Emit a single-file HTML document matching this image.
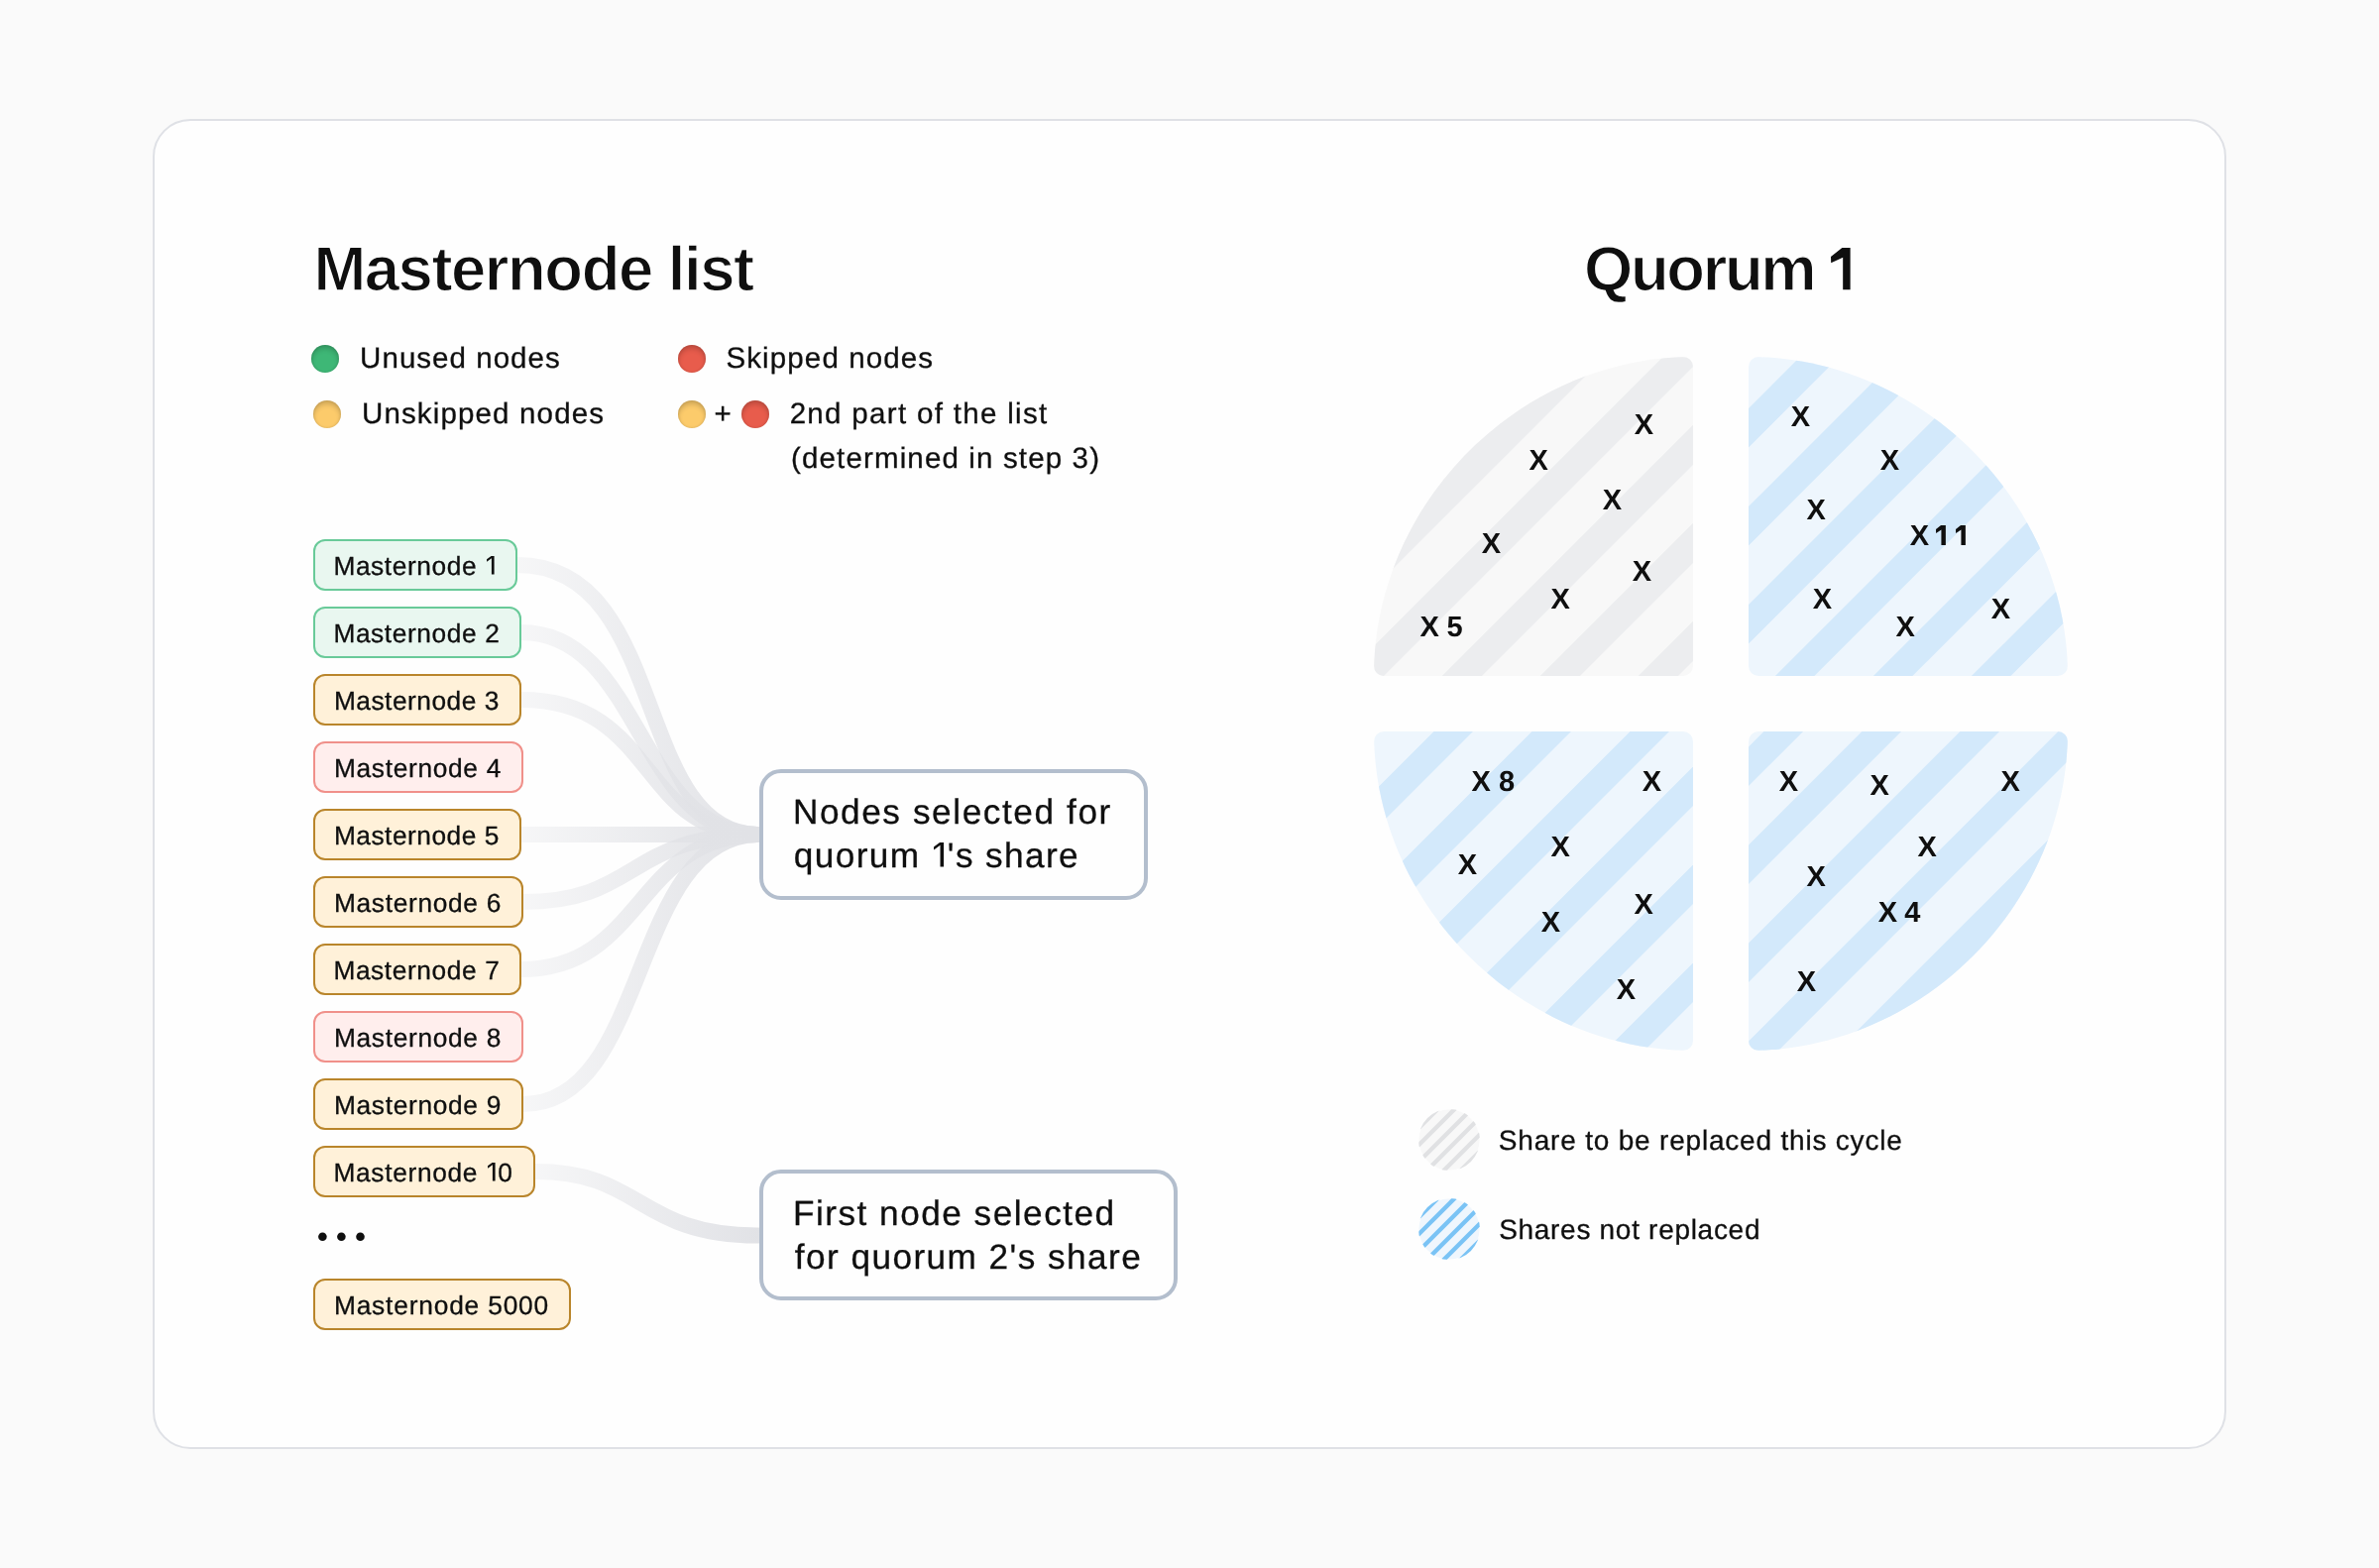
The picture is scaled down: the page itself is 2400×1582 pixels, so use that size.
<!DOCTYPE html><html><head><meta charset="utf-8"><title>Masternode list / Quorum 1</title><style>
html,body{margin:0;padding:0}
body{width:2400px;height:1582px;background:#fafafa;position:relative;overflow:hidden;font-family:"Liberation Sans",sans-serif;color:#0f0f0f}
.card{position:absolute;left:154px;top:120px;width:2088px;height:1338px;border:2px solid #dfe1e6;border-radius:38px;background:#fefefe}
.t{position:absolute;white-space:pre;line-height:1;text-rendering:geometricPrecision;font-family:"Liberation Sans",sans-serif}
.mn{position:absolute;height:48px;border:2px solid;border-radius:12px;left:316px}
.g{background:#e9f7f0;border-color:#69ca99}.y{background:#fff1d9;border-color:#b9852b}.r{background:#ffeeed;border-color:#f0908a}
.dot{position:absolute;width:28px;height:28px;border-radius:50%;box-shadow:inset 0 4px 5px rgba(0,0,0,.17),inset 0 0 3px rgba(0,0,0,.14)}
.lb{position:absolute;border:4px solid #b3becd;border-radius:22px;background:#fefefe;box-sizing:border-box}
svg{position:absolute;left:0;top:0}
.tl{position:absolute;left:0;top:0;width:2400px;height:1582px;will-change:transform}
</style></head><body>
<div class="card"></div>
<svg width="2400" height="1582" viewBox="0 0 2400 1582"><defs><linearGradient id="cg0" gradientUnits="userSpaceOnUse" x1="522" y1="0" x2="766" y2="0"><stop offset="0" stop-color="#e1e2e6" stop-opacity=".28"/><stop offset="1" stop-color="#e1e2e6" stop-opacity="1"/></linearGradient><linearGradient id="cg1" gradientUnits="userSpaceOnUse" x1="526" y1="0" x2="766" y2="0"><stop offset="0" stop-color="#e1e2e6" stop-opacity=".28"/><stop offset="1" stop-color="#e1e2e6" stop-opacity="1"/></linearGradient><linearGradient id="cg2" gradientUnits="userSpaceOnUse" x1="526" y1="0" x2="766" y2="0"><stop offset="0" stop-color="#e1e2e6" stop-opacity=".28"/><stop offset="1" stop-color="#e1e2e6" stop-opacity="1"/></linearGradient><linearGradient id="cg3" gradientUnits="userSpaceOnUse" x1="526" y1="0" x2="766" y2="0"><stop offset="0" stop-color="#e1e2e6" stop-opacity=".28"/><stop offset="1" stop-color="#e1e2e6" stop-opacity="1"/></linearGradient><linearGradient id="cg4" gradientUnits="userSpaceOnUse" x1="528" y1="0" x2="766" y2="0"><stop offset="0" stop-color="#e1e2e6" stop-opacity=".28"/><stop offset="1" stop-color="#e1e2e6" stop-opacity="1"/></linearGradient><linearGradient id="cg5" gradientUnits="userSpaceOnUse" x1="526" y1="0" x2="766" y2="0"><stop offset="0" stop-color="#e1e2e6" stop-opacity=".28"/><stop offset="1" stop-color="#e1e2e6" stop-opacity="1"/></linearGradient><linearGradient id="cg6" gradientUnits="userSpaceOnUse" x1="528" y1="0" x2="766" y2="0"><stop offset="0" stop-color="#e1e2e6" stop-opacity=".28"/><stop offset="1" stop-color="#e1e2e6" stop-opacity="1"/></linearGradient><linearGradient id="cg10" gradientUnits="userSpaceOnUse" x1="540" y1="0" x2="766" y2="0"><stop offset="0" stop-color="#e1e2e6" stop-opacity=".28"/><stop offset="1" stop-color="#e1e2e6" stop-opacity="1"/></linearGradient><clipPath id="rrTL"><rect x="1386" y="360" width="322" height="322" rx="10" ry="10"/></clipPath><clipPath id="ccTL"><path d="M1386,682 C1386,507.48 1533.48,360 1708,360 L1708,682Z"/></clipPath><clipPath id="rrTR"><rect x="1764" y="360" width="322" height="322" rx="10" ry="10"/></clipPath><clipPath id="ccTR"><path d="M2086,682 C2086,507.48 1938.52,360 1764,360 L1764,682Z"/></clipPath><clipPath id="rrBL"><rect x="1386" y="738" width="322" height="322" rx="10" ry="10"/></clipPath><clipPath id="ccBL"><path d="M1386,738 C1386,912.52 1533.48,1060 1708,1060 L1708,738Z"/></clipPath><clipPath id="rrBR"><rect x="1764" y="738" width="322" height="322" rx="10" ry="10"/></clipPath><clipPath id="ccBR"><path d="M2086,738 C2086,912.52 1938.52,1060 1764,1060 L1764,738Z"/></clipPath><clipPath id="lc1"><circle cx="1462" cy="1150" r="31"/></clipPath><clipPath id="lc2"><circle cx="1462" cy="1240" r="31"/></clipPath></defs><path d="M522,570 C676,570 637,842 766,842" fill="none" stroke="url(#cg0)" stroke-width="16"/><path d="M526,638 C647,638 643.5,842 766,842" fill="none" stroke="url(#cg1)" stroke-width="16"/><path d="M526,706 C664,706 642.5,842 766,842" fill="none" stroke="url(#cg2)" stroke-width="16"/><rect x="526" y="834" width="240" height="16" fill="url(#cg3)"/><path d="M528,910 C645,910 633,842 766,842" fill="none" stroke="url(#cg4)" stroke-width="16"/><path d="M526,978 C650,978 641,842 766,842" fill="none" stroke="url(#cg5)" stroke-width="16"/><path d="M528,1114 C656,1114 635,842 766,842" fill="none" stroke="url(#cg6)" stroke-width="16"/><path d="M540,1182 C649,1182 642,1246.6 766,1246.6" fill="none" stroke="url(#cg10)" stroke-width="16"/><g clip-path="url(#rrTL)"><g clip-path="url(#ccTL)"><rect x="1386" y="360" width="322" height="322" fill="#f8f8f8"/><polygon points="1370.7,358 1422.9,358 1096.9,684 1044.7,684" fill="#ecedef"/><polygon points="1469.7,358 1521.9,358 1195.9,684 1143.7,684" fill="#ecedef"/><polygon points="1568.7,358 1620.9,358 1294.9,684 1242.7,684" fill="#ecedef"/><polygon points="1679.7,358 1719.9,358 1393.9,684 1353.7,684" fill="#ecedef"/><polygon points="1778.7,358 1818.9,358 1492.9,684 1452.7,684" fill="#ecedef"/><polygon points="1877.7,358 1917.9,358 1591.9,684 1551.7,684" fill="#ecedef"/><polygon points="1976.7,358 2016.9,358 1690.9,684 1650.7,684" fill="#ecedef"/></g></g><g clip-path="url(#rrTR)"><g clip-path="url(#ccTR)"><rect x="1764" y="360" width="322" height="322" fill="#eef6fd"/><polygon points="1817.9,358 1857.4,358 1531.4,684 1491.9,684" fill="#d3e9fb"/><polygon points="1916.9,358 1956.4,358 1630.4,684 1590.9,684" fill="#d3e9fb"/><polygon points="2015.9,358 2055.4,358 1729.4,684 1689.9,684" fill="#d3e9fb"/><polygon points="2114.9,358 2154.4,358 1828.4,684 1788.9,684" fill="#d3e9fb"/><polygon points="2213.9,358 2253.4,358 1927.4,684 1887.9,684" fill="#d3e9fb"/><polygon points="2312.9,358 2352.4,358 2026.4,684 1986.9,684" fill="#d3e9fb"/></g></g><g clip-path="url(#rrBL)"><g clip-path="url(#ccBL)"><rect x="1386" y="738" width="322" height="322" fill="#eef6fd"/><polygon points="1349.5,736 1389.0,736 1063.0,1062 1023.5,1062" fill="#d3e9fb"/><polygon points="1448.5,736 1488.0,736 1162.0,1062 1122.5,1062" fill="#d3e9fb"/><polygon points="1547.5,736 1587.0,736 1261.0,1062 1221.5,1062" fill="#d3e9fb"/><polygon points="1646.5,736 1686.0,736 1360.0,1062 1320.5,1062" fill="#d3e9fb"/><polygon points="1745.5,736 1785.0,736 1459.0,1062 1419.5,1062" fill="#d3e9fb"/><polygon points="1844.5,736 1884.0,736 1558.0,1062 1518.5,1062" fill="#d3e9fb"/><polygon points="1943.5,736 1983.0,736 1657.0,1062 1617.5,1062" fill="#d3e9fb"/></g></g><g clip-path="url(#rrBR)"><g clip-path="url(#ccBR)"><rect x="1764" y="738" width="322" height="322" fill="#eef6fd"/><polygon points="1781.4,736 1821.1,736 1495.1,1062 1455.4,1062" fill="#d3e9fb"/><polygon points="1880.4,736 1920.1,736 1594.1,1062 1554.4,1062" fill="#d3e9fb"/><polygon points="1979.4,736 2019.1,736 1693.1,1062 1653.4,1062" fill="#d3e9fb"/><polygon points="2078.4,736 2118.1,736 1792.1,1062 1752.4,1062" fill="#d3e9fb"/><polygon points="2177.4,736 2229.1,736 1903.1,1062 1851.4,1062" fill="#d3e9fb"/><polygon points="2276.4,736 2328.1,736 2002.1,1062 1950.4,1062" fill="#d3e9fb"/><polygon points="2375.4,736 2427.1,736 2101.1,1062 2049.4,1062" fill="#d3e9fb"/></g></g><circle cx="1462" cy="1150" r="30.5" fill="#f8f8f8"/><g clip-path="url(#lc1)"><polygon points="1450.4,1116 1456.6,1116 1388.6,1184 1382.4,1184" fill="#e0e1e3"/><polygon points="1467.4,1116 1473.6,1116 1405.6,1184 1399.4,1184" fill="#e0e1e3"/><polygon points="1484.4,1116 1490.6,1116 1422.6,1184 1416.4,1184" fill="#e0e1e3"/><polygon points="1501.4,1116 1507.6,1116 1439.6,1184 1433.4,1184" fill="#e0e1e3"/><polygon points="1518.4,1116 1524.6,1116 1456.6,1184 1450.4,1184" fill="#e0e1e3"/><polygon points="1535.4,1116 1541.6,1116 1473.6,1184 1467.4,1184" fill="#e0e1e3"/></g><circle cx="1462" cy="1240" r="30.5" fill="#eff6fd"/><g clip-path="url(#lc2)"><polygon points="1450.4,1206 1456.6,1206 1388.6,1274 1382.4,1274" fill="#7ac3f5"/><polygon points="1467.4,1206 1473.6,1206 1405.6,1274 1399.4,1274" fill="#7ac3f5"/><polygon points="1484.4,1206 1490.6,1206 1422.6,1274 1416.4,1274" fill="#7ac3f5"/><polygon points="1501.4,1206 1507.6,1206 1439.6,1274 1433.4,1274" fill="#7ac3f5"/><polygon points="1518.4,1206 1524.6,1206 1456.6,1274 1450.4,1274" fill="#7ac3f5"/><polygon points="1535.4,1206 1541.6,1206 1473.6,1274 1467.4,1274" fill="#7ac3f5"/></g><circle cx="325.4" cy="1247.8" r="4.3" fill="#0f0f0f"/><circle cx="344.4" cy="1247.8" r="4.3" fill="#0f0f0f"/><circle cx="363.5" cy="1247.8" r="4.3" fill="#0f0f0f"/></svg>
<div class="mn g" style="top:544px;width:202px"></div>
<div class="mn g" style="top:612px;width:206px"></div>
<div class="mn y" style="top:680px;width:206px"></div>
<div class="mn r" style="top:748px;width:208px"></div>
<div class="mn y" style="top:816px;width:206px"></div>
<div class="mn y" style="top:884px;width:208px"></div>
<div class="mn y" style="top:952px;width:206px"></div>
<div class="mn r" style="top:1020px;width:208px"></div>
<div class="mn y" style="top:1088px;width:208px"></div>
<div class="mn y" style="top:1156px;width:220px"></div>
<div class="mn y" style="top:1290px;width:256px"></div>
<div class="lb" style="left:766px;top:776px;width:392px;height:132px"></div>
<div class="lb" style="left:766px;top:1180px;width:422px;height:132px"></div>
<div class="dot" style="left:314px;top:348px;background:#3eb776"></div>
<div class="dot" style="left:316px;top:404px;background:#fccb6b"></div>
<div class="dot" style="left:684px;top:348px;background:#e85c4c"></div>
<div class="dot" style="left:684px;top:404px;background:#fccb6b"></div>
<div class="dot" style="left:748px;top:404px;background:#e85c4c"></div>
<div class="tl">
<span class="t" style="left:316.45px;top:241.0px;font-size:63.4px;font-weight:700;-webkit-text-stroke:1.3px #fefefe;letter-spacing:-1.45px;">Masternode list</span>
<span class="t" style="left:1598.05px;top:241.0px;font-size:63.4px;font-weight:700;-webkit-text-stroke:1.3px #fefefe;letter-spacing:-2.386px;">Quorum <svg width="19.63" height="42.30" viewBox="0 0 19.63 42.30" style="position:relative;left:0;top:-0.6px;display:inline-block;vertical-align:baseline;margin:0 0.00px 0 1.90px;overflow:visible"><path d="M11.34,0.00 L0.00,9.09 L0.21,15.23 L12.18,9.73 L12.18,42.30 L19.63,42.30 L19.63,0.00Z" fill="#0f0f0f"/></svg></span>
<span class="t" style="left:363.1px;top:347.0px;font-size:29.5px;-webkit-text-stroke:0.3px #0f0f0f;letter-spacing:1.036px;">Unused nodes</span>
<span class="t" style="left:364.95px;top:403.0px;font-size:29.5px;-webkit-text-stroke:0.3px #0f0f0f;letter-spacing:1.15px;">Unskipped nodes</span>
<span class="t" style="left:732.45px;top:347.0px;font-size:29.5px;-webkit-text-stroke:0.3px #0f0f0f;letter-spacing:1.125px;">Skipped nodes</span>
<span class="t" style="left:796.65px;top:403.0px;font-size:29.5px;-webkit-text-stroke:0.3px #0f0f0f;letter-spacing:1.321px;">2nd part of the list</span>
<span class="t" style="left:798.0px;top:448.0px;font-size:29.5px;-webkit-text-stroke:0.3px #0f0f0f;letter-spacing:1.143px;">(determined in step 3)</span>
<span class="t" style="left:720.55px;top:403.0px;font-size:29.5px;-webkit-text-stroke:0.3px #0f0f0f;">+</span>
<span class="t" style="left:799.9px;top:802.0px;font-size:35.2px;-webkit-text-stroke:0.3px #0f0f0f;letter-spacing:1.588px;">Nodes selected for</span>
<span class="t" style="left:800.75px;top:846.0px;font-size:35.2px;-webkit-text-stroke:0.3px #0f0f0f;letter-spacing:1.393px;">quorum <svg width="10.09" height="24.62" viewBox="0 0 10.09 24.62" style="position:relative;left:0;top:-0.75px;display:inline-block;vertical-align:baseline;margin:0 3.52px 0 2.64px;overflow:visible"><path d="M6.03,0.00 L0.00,4.43 L0.12,7.56 L6.52,2.83 L6.52,24.62 L10.09,24.62 L10.09,0.00Z" fill="#0f0f0f"/></svg>'s share</span>
<span class="t" style="left:799.95px;top:1207.0px;font-size:35.2px;-webkit-text-stroke:0.3px #0f0f0f;letter-spacing:1.494px;">First node selected</span>
<span class="t" style="left:801.75px;top:1251.0px;font-size:35.2px;-webkit-text-stroke:0.3px #0f0f0f;letter-spacing:1.447px;">for quorum 2's share</span>
<span class="t" style="left:1511.85px;top:1137.0px;font-size:28px;-webkit-text-stroke:0.3px #0f0f0f;letter-spacing:0.803px;">Share to be replaced this cycle</span>
<span class="t" style="left:1512.15px;top:1227.0px;font-size:28px;-webkit-text-stroke:0.3px #0f0f0f;letter-spacing:0.706px;">Shares not replaced</span>
<span class="t" style="left:336.4px;top:558.0px;font-size:26.3px;-webkit-text-stroke:0.3px #0f0f0f;letter-spacing:0.6px;">Masternode <svg width="7.58" height="18.49" viewBox="0 0 7.58 18.49" style="position:relative;left:0;top:-0.75px;display:inline-block;vertical-align:baseline;margin:0 2.63px 0 1.97px;overflow:visible"><path d="M4.53,0.00 L0.00,3.33 L0.09,5.68 L4.90,2.13 L4.90,18.49 L7.58,18.49 L7.58,0.00Z" fill="#0f0f0f"/></svg></span>
<span class="t" style="left:336.4px;top:626.0px;font-size:26.3px;-webkit-text-stroke:0.3px #0f0f0f;letter-spacing:0.6px;">Masternode 2</span>
<span class="t" style="left:336.9px;top:694.0px;font-size:26.3px;-webkit-text-stroke:0.3px #0f0f0f;letter-spacing:0.509px;">Masternode 3</span>
<span class="t" style="left:336.9px;top:762.0px;font-size:26.3px;-webkit-text-stroke:0.3px #0f0f0f;letter-spacing:0.691px;">Masternode 4</span>
<span class="t" style="left:336.9px;top:830.0px;font-size:26.3px;-webkit-text-stroke:0.3px #0f0f0f;letter-spacing:0.509px;">Masternode 5</span>
<span class="t" style="left:336.9px;top:898.0px;font-size:26.3px;-webkit-text-stroke:0.3px #0f0f0f;letter-spacing:0.691px;">Masternode 6</span>
<span class="t" style="left:336.4px;top:966.0px;font-size:26.3px;-webkit-text-stroke:0.3px #0f0f0f;letter-spacing:0.6px;">Masternode 7</span>
<span class="t" style="left:336.9px;top:1034.0px;font-size:26.3px;-webkit-text-stroke:0.3px #0f0f0f;letter-spacing:0.691px;">Masternode 8</span>
<span class="t" style="left:336.9px;top:1102.0px;font-size:26.3px;-webkit-text-stroke:0.3px #0f0f0f;letter-spacing:0.691px;">Masternode 9</span>
<span class="t" style="left:336.4px;top:1170.0px;font-size:26.3px;-webkit-text-stroke:0.3px #0f0f0f;letter-spacing:0.691px;">Masternode <svg width="7.58" height="18.49" viewBox="0 0 7.58 18.49" style="position:relative;left:0;top:-0.75px;display:inline-block;vertical-align:baseline;margin:0 2.63px 0 1.97px;overflow:visible"><path d="M4.53,0.00 L0.00,3.33 L0.09,5.68 L4.90,2.13 L4.90,18.49 L7.58,18.49 L7.58,0.00Z" fill="#0f0f0f"/></svg>0</span>
<span class="t" style="left:336.9px;top:1304.0px;font-size:26.3px;-webkit-text-stroke:0.3px #0f0f0f;letter-spacing:0.829px;">Masternode 5000</span>
<span class="t" style="left:1648.7px;top:415.0px;font-size:29px;font-weight:700;">X</span>
<span class="t" style="left:1542.6px;top:451.0px;font-size:29px;font-weight:700;">X</span>
<span class="t" style="left:1616.8px;top:491.0px;font-size:29px;font-weight:700;">X</span>
<span class="t" style="left:1494.8px;top:535.0px;font-size:29px;font-weight:700;">X</span>
<span class="t" style="left:1646.8px;top:563.0px;font-size:29px;font-weight:700;">X</span>
<span class="t" style="left:1564.6px;top:591.0px;font-size:29px;font-weight:700;">X</span>
<span class="t" style="left:1432.6px;top:619.0px;font-size:29px;font-weight:700;">X</span>
<span class="t" style="left:1806.7px;top:407.0px;font-size:29px;font-weight:700;">X</span>
<span class="t" style="left:1896.7px;top:451.0px;font-size:29px;font-weight:700;">X</span>
<span class="t" style="left:1822.6px;top:501.0px;font-size:29px;font-weight:700;">X</span>
<span class="t" style="left:1926.8px;top:527.0px;font-size:29px;font-weight:700;">X</span>
<span class="t" style="left:1828.8px;top:591.0px;font-size:29px;font-weight:700;">X</span>
<span class="t" style="left:1912.5px;top:619.0px;font-size:29px;font-weight:700;">X</span>
<span class="t" style="left:2008.8px;top:601.0px;font-size:29px;font-weight:700;">X</span>
<span class="t" style="left:1484.5px;top:775.0px;font-size:29px;font-weight:700;">X</span>
<span class="t" style="left:1656.7px;top:775.0px;font-size:29px;font-weight:700;">X</span>
<span class="t" style="left:1564.6px;top:841.0px;font-size:29px;font-weight:700;">X</span>
<span class="t" style="left:1470.7px;top:859.0px;font-size:29px;font-weight:700;">X</span>
<span class="t" style="left:1648.6px;top:899.0px;font-size:29px;font-weight:700;">X</span>
<span class="t" style="left:1554.7px;top:917.0px;font-size:29px;font-weight:700;">X</span>
<span class="t" style="left:1630.7px;top:985.0px;font-size:29px;font-weight:700;">X</span>
<span class="t" style="left:1794.8px;top:775.0px;font-size:29px;font-weight:700;">X</span>
<span class="t" style="left:1886.6px;top:779.0px;font-size:29px;font-weight:700;">X</span>
<span class="t" style="left:2018.6px;top:775.0px;font-size:29px;font-weight:700;">X</span>
<span class="t" style="left:1934.6px;top:841.0px;font-size:29px;font-weight:700;">X</span>
<span class="t" style="left:1822.6px;top:871.0px;font-size:29px;font-weight:700;">X</span>
<span class="t" style="left:1894.7px;top:907.0px;font-size:29px;font-weight:700;">X</span>
<span class="t" style="left:1812.7px;top:977.0px;font-size:29px;font-weight:700;">X</span>
<span class="t" style="left:1459.4px;top:619.0px;font-size:29px;font-weight:700;">5</span>
<span class="t" style="left:1947.2px;top:527.0px;font-size:29px;font-weight:700;"><svg width="9.88" height="19.95" viewBox="0 0 9.88 19.95" style="position:relative;left:0;top:0px;display:inline-block;vertical-align:baseline;margin:0 4.93px 0 5.51px;overflow:visible"><path d="M5.03,0.00 L0.00,3.91 L0.10,7.92 L5.43,4.59 L5.43,19.95 L9.88,19.95 L9.88,0.00Z" fill="#0f0f0f"/></svg><svg width="9.88" height="19.95" viewBox="0 0 9.88 19.95" style="position:relative;left:0;top:0px;display:inline-block;vertical-align:baseline;margin:0 4.93px 0 5.51px;overflow:visible"><path d="M5.03,0.00 L0.00,3.91 L0.10,7.92 L5.43,4.59 L5.43,19.95 L9.88,19.95 L9.88,0.00Z" fill="#0f0f0f"/></svg></span>
<span class="t" style="left:1512.05px;top:775.0px;font-size:29px;font-weight:700;">8</span>
<span class="t" style="left:1921.15px;top:907.0px;font-size:29px;font-weight:700;">4</span>
</div>
</body></html>
